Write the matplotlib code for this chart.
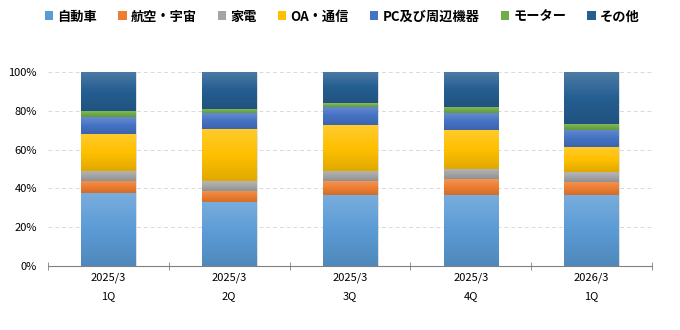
import numpy as np
import matplotlib
matplotlib.use("Agg")
import matplotlib.pyplot as plt
from matplotlib.colors import LinearSegmentedColormap, to_rgb
from matplotlib.ticker import PercentFormatter

plt.rcParams['font.family'] = ['Noto Sans CJK JP', 'DejaVu Sans']

years = ["2025/3", "2025/3", "2025/3", "2025/3", "2026/3"]
quarters = ["1Q", "2Q", "3Q", "4Q", "1Q"]
series = ["自動車", "航空・宇宙", "家電", "OA・通信", "PC及び周辺機器", "モーター", "その他"]

jidousha = [37.6, 33.0, 36.6, 36.6, 36.6]
koukuu = [6.2, 5.7, 7.2, 8.2, 6.9]
kaden = [5.2, 5.1, 5.2, 5.2, 5.1]
oa = [19.2, 26.8, 23.7, 20.3, 12.7]
pc = [8.6, 8.1, 9.3, 8.6, 9.0]
motor = [3.1, 2.2, 2.0, 3.1, 3.1]
sonota = [20.1, 19.1, 16.0, 18.0, 26.6]

values = [jidousha, koukuu, kaden, oa, pc, motor, sonota]
colors = ["#5B9BD5", "#ED7D31", "#A5A5A5", "#FFC000", "#4472C4", "#70AD47", "#255E91"]

fig = plt.figure(figsize=(6.8, 3.3), dpi=100)
ax = fig.add_axes([0.0706, 0.194, 0.888, 0.588])

x = np.arange(len(years))
bottom = np.zeros(len(years))
handles = []
grad = np.linspace(0, 1, 64).reshape(-1, 1)
for name, vals, c in zip(series, values, colors):
    vals = np.array(vals)
    bars = ax.bar(x, vals, 0.45, bottom=bottom, color=c, label=name, zorder=3)
    handles.append(bars)
    # vertical gradient: lighter on top, darker below
    r, g, b = to_rgb(c)
    light = tuple(min(1, v + (1 - v) * 0.18) for v in (r, g, b))
    dark = tuple(v * 0.88 for v in (r, g, b))
    cmap = LinearSegmentedColormap.from_list(name, [dark, c, light])
    for p in bars.patches:
        x0, y0 = p.get_x(), p.get_y()
        im = ax.imshow(grad, cmap=cmap, origin='lower', aspect='auto',
                       extent=(x0, x0 + p.get_width(), y0, y0 + p.get_height()),
                       zorder=3.5)
        im.set_clip_path(p)
    # soft shadow on bar sides
    for p in bars.patches:
        ax.add_patch(plt.Rectangle((p.get_x() + 0.012, p.get_y()), p.get_width(), p.get_height(),
                                   color="#000000", alpha=0.12, zorder=2.5, lw=0))
    bottom += vals

ax.set_xlim(-0.5, len(years) - 0.5)
ax.set_ylim(0, 100)
ax.yaxis.set_major_formatter(PercentFormatter(decimals=0))
ax.set_yticks(np.arange(0, 101, 20))
ax.grid(axis='y', color='#D9D9D9', linestyle=(0, (4, 3)), linewidth=0.7, zorder=0)

for s in ['top', 'right', 'left']:
    ax.spines[s].set_visible(False)
ax.spines['bottom'].set_color('#808080')

ax.set_xticks(x)
ax.set_xticklabels([f"{y}\n{q}" for y, q in zip(years, quarters)], fontsize=8, linespacing=2.0)
ax.set_xticks(np.arange(-0.5, len(years)), minor=True)
ax.tick_params(axis='x', which='major', length=0, pad=5)
ax.tick_params(axis='x', which='minor', length=6, direction='inout', color='#808080')
ax.tick_params(axis='y', length=0, labelsize=8, pad=8)

leg = fig.legend(handles=handles, labels=series, loc='center', bbox_to_anchor=(0.503, 0.95),
                 ncol=7, frameon=False, handlelength=0.65, handleheight=0.65,
                 handletextpad=0.3, columnspacing=1.6,
                 prop={'size': 9.5, 'weight': 'bold', 'family': ['Noto Sans CJK JP', 'DejaVu Sans']})

fig.savefig("out.png", dpi=100)
